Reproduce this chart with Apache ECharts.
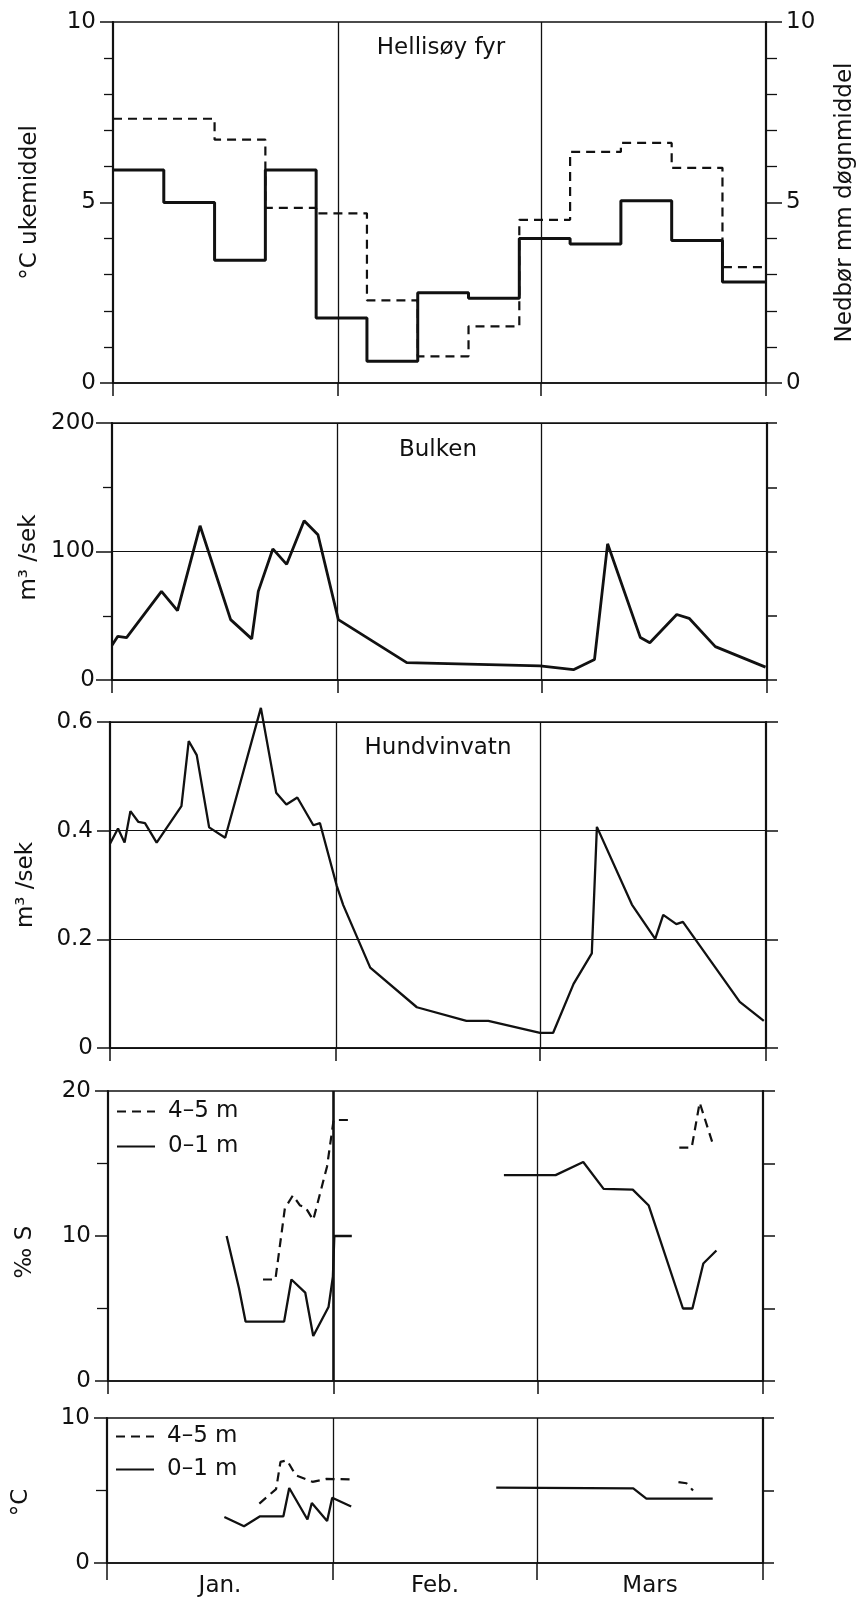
<!DOCTYPE html>
<html>
<head>
<meta charset="utf-8">
<script src="https://cdn.jsdelivr.net/npm/echarts@6.0.0/dist/echarts.min.js"></script>
<style>
html,body{margin:0;padding:0;background:#fff;}
#c{width:865px;height:1600px;}
</style>
</head>
<body>
<div id="c"></div>
<script>
// ---------- DATA ----------
const monthBounds = [0, 31, 59, 90];
const monthMid = [15.5, 45, 74.5];
const monthLabels = ['Jan.', 'Feb.', 'Mars'];

// Hellisøy fyr – weekly means (step starts in days from 1 Jan)
const weekStart = [0, 7, 14, 21, 28, 35, 42, 49, 56, 63, 70, 77, 84, 90];
const tempWeek = [5.9, 5.0, 3.4, 5.9, 1.8, 0.6, 2.5, 2.35, 4.0, 3.85, 5.05, 3.95, 2.8, 2.8];
const precipWeek = [7.32, 7.32, 6.74, 4.85, 4.7, 2.29, 0.74, 1.57, 4.52, 6.4, 6.65, 5.96, 3.21, 3.21];

// Bulken discharge m3/s
const bulkenDay = [0, 0.8, 2.0, 6.8, 9.0, 12.1, 16.3, 19.2, 20.1, 22.1, 24.0, 26.4, 28.3, 31.1, 40.5, 58.8, 63.4, 66.3, 68.1, 72.6, 73.9, 77.6, 79.3, 82.9, 89.8];
const bulkenFlow = [27, 34, 33, 69, 54, 120, 47, 32, 69, 102, 90, 124, 113, 47, 13.5, 11, 8, 16, 106, 33, 29, 51, 48, 26, 10];

// Hundvinvatn discharge m3/s
const hundDay = [0, 1.1, 2.0, 2.8, 3.9, 4.8, 6.4, 9.8, 10.8, 11.9, 13.6, 15.8, 20.7, 22.8, 24.2, 25.7, 27.9, 28.8, 31.1, 32.0, 35.7, 42.1, 48.9, 51.9, 59.0, 60.8, 63.6, 66.1, 66.8, 71.6, 74.8, 75.9, 77.7, 78.6, 86.4, 89.7];
const hundFlow = [0.376, 0.404, 0.378, 0.436, 0.416, 0.414, 0.378, 0.445, 0.565, 0.539, 0.406, 0.387, 0.626, 0.47, 0.448, 0.461, 0.41, 0.414, 0.299, 0.263, 0.148, 0.075, 0.05, 0.05, 0.028, 0.028, 0.118, 0.174, 0.407, 0.264, 0.201, 0.245, 0.228, 0.232, 0.085, 0.05];

// Salinity ‰ (null = gap)
const sal45Day = [21.3, 23.0, 24.3, 25.4, 26.4, 27.1, 28.2, 30.1, 31.0, 33.5, 50, 78.5, 80.2, 81.3, 83.2];
const sal45 = [7.0, 7.0, 11.9, 12.8, 12.1, 12.0, 11.1, 14.8, 18.0, 18.0, null, 16.1, 16.1, 19.2, 16.2];
const sal01Day = [16.3, 18.0, 18.9, 24.2, 25.2, 27.1, 28.2, 30.3, 30.9, 31.1, 33.5, 45, 54.4, 61.5, 65.3, 68.1, 72.1, 74.3, 79.0, 80.3, 81.8, 83.6];
const sal01 = [10.0, 6.4, 4.1, 4.1, 7.0, 6.1, 3.1, 5.1, 7.2, 10.0, 10.0, null, 14.2, 14.2, 15.1, 13.25, 13.2, 12.1, 5.0, 5.0, 8.1, 9.0];

// Water temperature °C (null = gap)
const tmp45Day = [20.9, 23.2, 23.8, 24.7, 25.9, 28.2, 30.1, 33.7, 50, 78.4, 79.5, 80.4];
const tmp45 = [4.1, 5.1, 6.97, 7.08, 6.05, 5.6, 5.8, 5.77, null, 5.58, 5.5, 5.0];
const tmp01Day = [16.1, 18.8, 21.0, 24.2, 25.0, 27.5, 28.1, 30.2, 30.9, 33.5, 45, 53.4, 72.2, 74.0, 83.1];
const tmp01 = [3.17, 2.53, 3.22, 3.22, 5.17, 3.0, 4.14, 2.9, 4.5, 3.9, null, 5.2, 5.15, 4.44, 4.44];

// ---------- CHART ----------
const FONT = 'DejaVu Sans';
const INK = '#111';
const pair = (xs, ys) => xs.map((x, i) => [x, ys[i]]);

const grids = [
  {left: 113, right: 95, top: 22, height: 361},
  {left: 112, right: 98, top: 423, height: 257},
  {left: 110, right: 99, top: 722, height: 326},
  {left: 108, right: 102, top: 1091, height: 290},
  {left: 107, right: 102, top: 1418, height: 145}
].map(g => Object.assign(g, {show: true, borderColor: INK, borderWidth: 1.4, backgroundColor: 'transparent'}));

const xAxes = grids.map((g, i) => ({
  type: 'value', gridIndex: i, min: 0, max: 90,
  axisLine: {show: true, lineStyle: {color: INK, width: 1.5}},
  axisTick: {show: true, customValues: monthBounds, length: i === 4 ? 17 : 13, lineStyle: {color: INK, width: 1.5}},
  axisLabel: {
    show: i === 4, customValues: monthMid, margin: 12,
    fontSize: 23, fontFamily: FONT, color: INK,
    formatter: v => monthLabels[monthMid.indexOf(v)] || ''
  },
  splitLine: {show: false}
}));

function leftY(grid, min, max, interval, name, gap, shift, opts) {
  return Object.assign({
    type: 'value', gridIndex: grid, position: 'left', min, max, interval,
    name, nameLocation: 'middle', nameGap: gap, nameRotate: 90,
    nameTextStyle: {fontSize: 23, fontFamily: FONT, color: INK, padding: [0, shift, 0, 0]},
    axisLine: {show: true, lineStyle: {color: INK, width: 2.2}},
    axisTick: {show: true, length: 13, lineStyle: {color: INK, width: 1.5}},
    axisLabel: {fontSize: 23, fontFamily: FONT, color: INK, margin: 17},
    splitLine: {show: false}
  }, opts || {});
}
function rightY(grid, min, max, interval, tickLen, opts) {
  return Object.assign({
    type: 'value', gridIndex: grid, position: 'right', min, max, interval,
    axisLine: {show: true, lineStyle: {color: INK, width: 2.2}},
    axisTick: {show: true, length: tickLen, lineStyle: {color: INK, width: 1.5}},
    axisLabel: {show: false},
    splitLine: {show: false}
  }, opts || {});
}

const yAxes = [
  leftY(0, 0, 10, 5, '°C ukemiddel', 71, 0, {
    minorTick: {show: true, splitNumber: 5, length: 9, lineStyle: {color: INK, width: 1.3}}
  }),
  rightY(0, 0, 10, 5, 16, {
    axisLabel: {show: true, fontSize: 23, fontFamily: FONT, color: INK, margin: 20},
    minorTick: {show: true, splitNumber: 5, length: 11, lineStyle: {color: INK, width: 1.3}},
    name: 'Nedbør mm døgnmiddel', nameLocation: 'middle', nameGap: 68, nameRotate: 90,
    nameTextStyle: {fontSize: 23, fontFamily: FONT, color: INK}
  }),
  leftY(1, 0, 200, 100, 'm³ /sek', 70, 12, {
    axisTick: {show: true, length: 16, lineStyle: {color: INK, width: 1.5}},
    minorTick: {show: true, splitNumber: 2, length: 9, lineStyle: {color: INK, width: 1.3}},
    splitLine: {show: true, lineStyle: {color: INK, width: 1.2}}
  }),
  rightY(1, 0, 200, 50, 10),
  leftY(2, 0, 0.6, 0.2, 'm³ /sek', 72, 0, {
    splitLine: {show: true, lineStyle: {color: INK, width: 1.2}}
  }),
  rightY(2, 0, 0.6, 0.2, 12),
  leftY(3, 0, 20, 10, '‰ S', 71, 32, {
    minorTick: {show: true, splitNumber: 2, length: 11, lineStyle: {color: INK, width: 1.3}}
  }),
  rightY(3, 0, 20, 5, 12),
  leftY(4, 0, 10, 10, '°C', 74, 24, {
    minorTick: {show: true, splitNumber: 2, length: 11, lineStyle: {color: INK, width: 1.3}}
  }),
  rightY(4, 0, 10, 5, 11)
];

function monthLines(thickFirst) {
  return {
    silent: true, symbol: ['none', 'none'], animation: false,
    label: {show: false},
    lineStyle: {color: INK, width: 1.3, type: 'solid'},
    data: [
      {xAxis: monthBounds[1], lineStyle: {width: thickFirst ? 2.6 : 1.3}},
      {xAxis: monthBounds[2]}
    ]
  };
}

const solid = w => ({color: INK, width: w, type: 'solid'});
const dashed = w => ({color: INK, width: w, type: [9, 6]});

const series = [
  {name: 'Temperatur', type: 'line', xAxisIndex: 0, yAxisIndex: 0, step: 'end', symbol: 'none',
   data: pair(weekStart, tempWeek), lineStyle: solid(3), markLine: monthLines(false)},
  {name: 'Nedbør', type: 'line', xAxisIndex: 0, yAxisIndex: 1, step: 'end', symbol: 'none',
   data: pair(weekStart, precipWeek), lineStyle: dashed(2.2)},
  {name: 'Bulken', type: 'line', xAxisIndex: 1, yAxisIndex: 2, symbol: 'none',
   data: pair(bulkenDay, bulkenFlow), lineStyle: solid(2.8), markLine: monthLines(false)},
  {name: 'Hundvinvatn', type: 'line', xAxisIndex: 2, yAxisIndex: 4, symbol: 'none', clip: false,
   data: pair(hundDay, hundFlow), lineStyle: solid(2.3), markLine: monthLines(false)},
  {name: '4–5 m', type: 'line', xAxisIndex: 3, yAxisIndex: 6, symbol: 'none', connectNulls: false,
   data: pair(sal45Day, sal45), lineStyle: dashed(2.2), itemStyle: {color: INK}, markLine: monthLines(true)},
  {name: '0–1 m', type: 'line', xAxisIndex: 3, yAxisIndex: 6, symbol: 'none', connectNulls: false,
   data: pair(sal01Day, sal01), lineStyle: solid(2.3), itemStyle: {color: INK}},
  {name: '4–5 m', type: 'line', xAxisIndex: 4, yAxisIndex: 8, symbol: 'none', connectNulls: false,
   data: pair(tmp45Day, tmp45), lineStyle: dashed(2.2), itemStyle: {color: INK}, markLine: monthLines(false)},
  {name: '0–1 m', type: 'line', xAxisIndex: 4, yAxisIndex: 8, symbol: 'none', connectNulls: false,
   data: pair(tmp01Day, tmp01), lineStyle: solid(2.3), itemStyle: {color: INK}}
];

const titleStyle = {fontSize: 23, fontWeight: 'normal', fontFamily: FONT, color: INK};
const legendBase = {
  orient: 'vertical', padding: 0, itemWidth: 38, itemHeight: 14,
  data: ['4–5 m', '0–1 m'], selectedMode: false,
  itemStyle: {opacity: 0, borderWidth: 0},
  textStyle: {fontSize: 23, fontFamily: FONT, color: INK, padding: [0, 0, 0, 8]}
};

const chart = echarts.init(document.getElementById('c'), null, {renderer: 'canvas'});
chart.setOption({
  animation: false,
  backgroundColor: '#fff',
  color: [INK],
  title: [
    {text: 'Hellisøy fyr', left: 441, top: 37, textAlign: 'center', textStyle: titleStyle, padding: 0},
    {text: 'Bulken', left: 438, top: 439, textAlign: 'center', textStyle: titleStyle, padding: 0},
    {text: 'Hundvinvatn', left: 438, top: 737, textAlign: 'center', textStyle: titleStyle, padding: 0}
  ],
  legend: [
    Object.assign({left: 116, top: 1100, itemGap: 12}, legendBase),
    Object.assign({left: 115, top: 1425, itemGap: 10}, legendBase)
  ],
  grid: grids,
  xAxis: xAxes,
  yAxis: yAxes,
  series: series
});
</script>
</body>
</html>
